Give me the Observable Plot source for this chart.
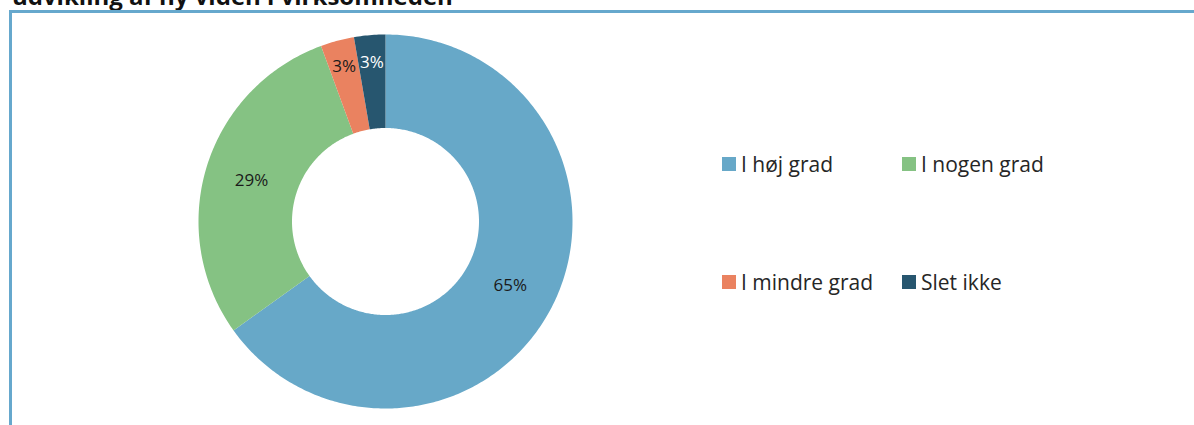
<!DOCTYPE html>
<html>
<head>
<meta charset="utf-8">
<script src="https://cdn.jsdelivr.net/npm/d3@7"></script>
<script src="https://cdn.jsdelivr.net/npm/@observablehq/plot@0.6"></script>
<style>
  html, body { margin: 0; padding: 0; background: #fff; overflow: hidden; }
  body { width: 1194px; height: 425px; position: relative; font-family: "Open Sans", sans-serif; }
  #title { position: absolute; left: 12px; top: -16px; font-size: 24px; line-height: 24px; font-weight: 700; color: #111; white-space: nowrap; }
  #frame { position: absolute; left: 9px; top: 10px; width: 1300px; height: 600px; border: 3px solid #66a8cd; box-sizing: border-box; }
  #chart { position: absolute; left: 0; top: 0; }
  .lg { position: absolute; display: flex; align-items: center; font-size: 21px; color: #262626; white-space: nowrap; }
  .lg .sw { width: 14px; height: 14px; margin-right: 5px; }
</style>
</head>
<body>
<div id="title">udvikling af ny viden i virksomheden</div>
<div id="frame"></div>
<div id="chart"></div>
<div id="legend"></div>
<script>
const categories = ["I høj grad", "I nogen grad", "I mindre grad", "Slet ikke"];
const values = [65.1, 29.3, 2.9, 2.7];
const labels = ["65%", "29%", "3%", "3%"];
const colors = ["#67a8c8", "#85c283", "#ea8260", "#27566f"];

const R = 187, r0 = 93.5;
const arcs = d3.pie().sort(null).value(d => d)(values);

// polygon points for each ring segment
const pts = [];
arcs.forEach((a, i) => {
  const n = Math.max(4, Math.ceil((a.endAngle - a.startAngle) * 80));
  for (let k = 0; k <= n; k++) {
    const t = a.startAngle + (a.endAngle - a.startAngle) * k / n;
    pts.push({cat: categories[i], x: R * Math.sin(t), y: -R * Math.cos(t)});
  }
  for (let k = n; k >= 0; k--) {
    const t = a.startAngle + (a.endAngle - a.startAngle) * k / n;
    pts.push({cat: categories[i], x: r0 * Math.sin(t), y: -r0 * Math.cos(t)});
  }
});

const lab = arcs.map((a, i) => {
  const m = (a.startAngle + a.endAngle) / 2;
  const rr = values[i] < 5 ? 160 : (R + r0) / 2;
  return {cat: categories[i], text: labels[i], x: rr * Math.sin(m), y: -rr * Math.cos(m), dark: i === 3};
});

const chart = Plot.plot({
  width: 1194,
  height: 425,
  margin: 0,
  x: {domain: [-385, 809], axis: null},
  y: {domain: [-221, 204], reverse: true, axis: null},
  color: {domain: categories, range: colors},
  style: {fontFamily: "Open Sans, sans-serif", background: "transparent"},
  marks: [
    Plot.line(pts, {x: "x", y: "y", z: "cat", fill: "cat", stroke: null, curve: "linear-closed"}),
    Plot.text(lab.filter(d => !d.dark), {x: "x", y: "y", text: "text", fill: "#1a1a1a", fontSize: 17}),
    Plot.text(lab.filter(d => d.dark), {x: "x", y: "y", text: "text", fill: "#ffffff", fontSize: 17})
  ]
});
document.getElementById("chart").appendChild(chart);

// legend (2 x 2), colours taken from the plot's colour scale
const cs = chart.scale("color");
const cellX = [722, 902], cellY = [164, 282];
const lgEl = document.getElementById("legend");
categories.forEach((c, i) => {
  const div = document.createElement("div");
  div.className = "lg";
  div.style.left = cellX[i % 2] + "px";
  div.style.top = (cellY[Math.floor(i / 2)] - 14) + "px";
  div.style.height = "28px";
  const sw = document.createElement("span");
  sw.className = "sw";
  sw.style.background = cs.apply(c);
  const tx = document.createElement("span");
  tx.textContent = c;
  div.appendChild(sw);
  div.appendChild(tx);
  lgEl.appendChild(div);
});
</script>
</body>
</html>
